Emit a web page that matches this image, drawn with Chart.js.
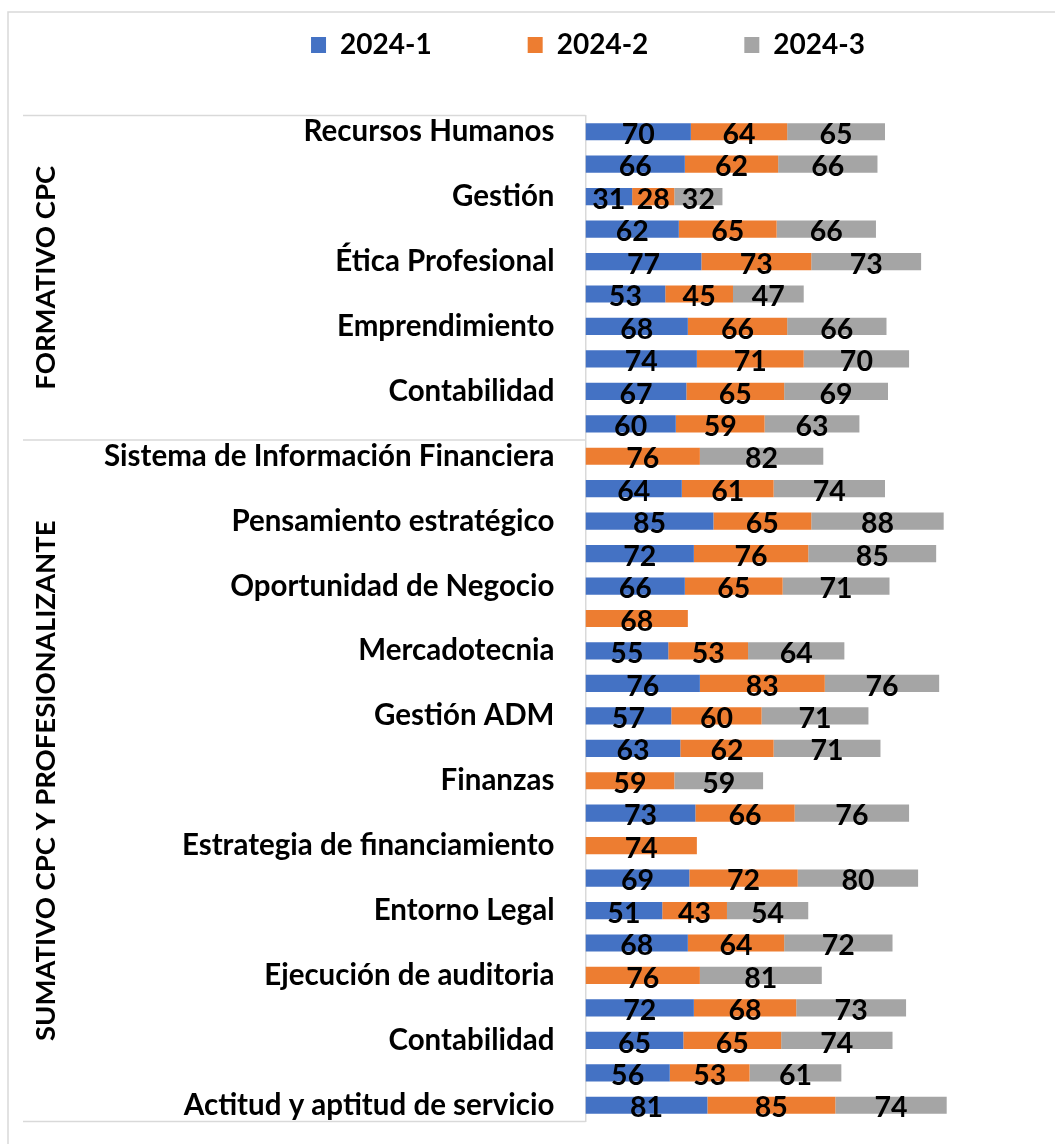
<!DOCTYPE html>
<html>
<head>
<meta charset="utf-8">
<title>Resultados 2024</title>
<script src="https://cdn.jsdelivr.net/npm/chart.js@4.4.1/dist/chart.umd.min.js"></script>
<style>
    html, body { margin: 0; padding: 0; background: #fff; overflow: hidden; }
    #caixa { position: relative; width: 1055px; height: 1144px; }
</style>
</head>
<body>
<div id="caixa"><canvas id="grafico"></canvas></div>
<script>
// linhas de cima para baixo (so metade das linhas tem rotulo visivel)
var materias = [
    "Recursos Humanos", "", "Gestión", "", "Ética Profesional", "",
    "Emprendimiento", "", "Contabilidad", "",
    "Sistema de Información Financiera", "", "Pensamiento estratégico", "",
    "Oportunidad de Negocio", "", "Mercadotecnia", "", "Gestión ADM", "",
    "Finanzas", "", "Estrategia de financiamiento", "", "Entorno Legal", "",
    "Ejecución de auditoria", "", "Contabilidad", "", "Actitud y aptitud de servicio"
];
var periodos = ["2024-1", "2024-2", "2024-3"];
var p2024_1 = [70, 66, 31, 62, 77, 53, 68, 74, 67, 60,
    null, 64, 85, 72, 66, null, 55, 76, 57, 63,
    null, 73, null, 69, 51, 68, null, 72, 65, 56, 81];
var p2024_2 = [64, 62, 28, 65, 73, 45, 66, 71, 65, 59,
    76, 61, 65, 76, 65, 68, 53, 83, 60, 62,
    59, 66, 74, 72, 43, 64, 76, 68, 65, 53, 85];
var p2024_3 = [65, 66, 32, 66, 73, 47, 66, 70, 69, 63,
    82, 74, 88, 85, 71, null, 64, 76, 71, 71,
    59, 76, null, 80, 54, 72, 81, 73, 74, 61, 74];
var grupos = ["FORMATIVO CPC", "SUMATIVO CPC Y PROFESIONALIZANTE"];
var tamGrupos = [10, 21];

var cores = ["#4472C4", "#ED7D31", "#A5A5A5"];
var fonte = "Lato, 'Noto Sans', sans-serif";
var corLinha = "#D9D9D9";

window.onload = function () {
    init();
};

function init() {
    carregarGrafico();
}

// numeros dentro das barras
var pluginRotulos = {
    id: 'rotulos',
    afterDatasetsDraw: function (chart) {
        var ctx = chart.ctx;
        ctx.save();
        ctx.font = 'bold 28.5px ' + fonte;
        ctx.fillStyle = '#000';
        ctx.textAlign = 'center';
        ctx.textBaseline = 'middle';
        chart.data.datasets.forEach(function (ds, i) {
            var meta = chart.getDatasetMeta(i);
            meta.data.forEach(function (barra, j) {
                var v = ds.data[j];
                if (v === null || v === undefined) return;
                ctx.fillText(v, (barra.x + barra.base) / 2, barra.y + 3);
            });
        });
        ctx.restore();
    }
};

// moldura, linhas dos grupos e titulos verticais
var pluginGrupos = {
    id: 'grupos',
    afterDraw: function (chart) {
        var ctx = chart.ctx;
        var area = chart.chartArea;
        var escala = chart.scales.y;
        var passo = (area.bottom - area.top) / materias.length;
        var esq = 23;
        ctx.save();
        ctx.strokeStyle = corLinha;
        ctx.lineWidth = 1.5;
        ctx.beginPath();
        ctx.moveTo(8, 1144);
        ctx.lineTo(8, 12);
        ctx.lineTo(1055, 12);
        ctx.stroke();

        ctx.beginPath();
        ctx.moveTo(esq, area.top);
        ctx.lineTo(area.left, area.top);
        ctx.stroke();

        ctx.font = 'bold 27.5px ' + fonte;
        ctx.fillStyle = '#000';
        ctx.textAlign = 'center';
        ctx.textBaseline = 'middle';
        var ini = 0;
        for (var g = 0; g < grupos.length; g++) {
            var yTopo = escala.getPixelForValue(ini) - passo / 2;
            var yFim = escala.getPixelForValue(ini + tamGrupos[g] - 1) + passo / 2;
            ctx.beginPath();
            ctx.moveTo(esq, yFim);
            ctx.lineTo(area.left, yFim);
            ctx.stroke();
            ctx.save();
            ctx.translate(46, (yTopo + yFim) / 2);
            ctx.rotate(-Math.PI / 2);
            ctx.fillText(grupos[g], 0, 0);
            ctx.restore();
            ini += tamGrupos[g];
        }
        ctx.restore();
    }
};

// legenda: altura fixa e deslocada para a direita como no original
var pluginLegenda = {
    id: 'ajusteLegenda',
    beforeInit: function (chart) {
        var fit = chart.legend.fit;
        chart.legend.fit = function () {
            fit.call(this);
            this.height = 180.5;
        };
    },
    afterLayout: function (chart) {
        chart.legend.left = 139;
        chart.legend.right = 1037;
    }
};

function carregarGrafico() {
    var ctx = document.getElementById("grafico");
    var series = [p2024_1, p2024_2, p2024_3];
    var datasets = [];
    for (var i = 0; i < series.length; i++) {
        datasets.push({
            label: periodos[i],
            data: series[i],
            backgroundColor: cores[i],
            borderWidth: 0,
            barPercentage: 0.53,
            categoryPercentage: 1
        });
    }
    var chartGraph = new Chart(ctx, {
        type: 'bar',
        data: {
            labels: materias,
            datasets: datasets
        },
        options: {
            indexAxis: 'y',
            responsive: true,
            maintainAspectRatio: false,
            animation: false,
            layout: {
                padding: { top: -65, left: 0, right: 18, bottom: 22.5 }
            },
            scales: {
                x: {
                    stacked: true,
                    min: 0,
                    max: 300,
                    display: false
                },
                y: {
                    stacked: true,
                    grid: { display: false, drawTicks: false },
                    border: { display: true, color: corLinha, width: 1.5 },
                    ticks: {
                        autoSkip: false,
                        padding: 31,
                        color: '#000',
                        font: { family: fonte, size: 29.5, weight: 'bold' }
                    },
                    afterFit: function (scale) {
                        scale.width = 585.5;
                        scale.paddingTop = 0;
                        scale.paddingBottom = 0;
                    }
                }
            },
            plugins: {
                legend: {
                    position: 'top',
                    labels: {
                        boxWidth: 15,
                        boxHeight: 16,
                        padding: 96,
                        color: '#000',
                        font: { family: fonte, size: 28, weight: 'bold' }
                    }
                },
                tooltip: { enabled: true }
            }
        },
        plugins: [pluginLegenda, pluginRotulos, pluginGrupos]
    });
}
</script>
</body>
</html>
